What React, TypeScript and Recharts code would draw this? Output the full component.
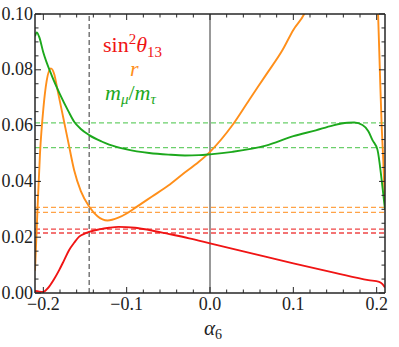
import { Line, LineChart, ReferenceLine, XAxis, YAxis } from "recharts";

const RED = "#f01414";
const ORANGE = "#ff8f1a";
const GREEN = "#1ca81c";
const FRAME = "#262626";
const FONT = "Liberation Serif";

// tick marks (minor + major) and labels
const X_TICKS = [
  -0.2, -0.18, -0.16, -0.14, -0.12, -0.1, -0.08, -0.06, -0.04, -0.02, 0, 0.02, 0.04, 0.06,
  0.08, 0.1, 0.12, 0.14, 0.16, 0.18, 0.2,
];
const X_MAJOR = [-0.2, -0.1, 0, 0.1, 0.2];
const X_LABELS = ["\u22120.2", "\u22120.1", "0.0", "0.1", "0.2"];
const Y_TICKS = [
  0, 0.005, 0.01, 0.015, 0.02, 0.025, 0.03, 0.035, 0.04, 0.045, 0.05, 0.055, 0.06, 0.065,
  0.07, 0.075, 0.08, 0.085, 0.09, 0.095, 0.1,
];
const Y_MAJOR = [0, 0.02, 0.04, 0.06, 0.08, 0.1];
const Y_LABELS = ["0.00", "0.02", "0.04", "0.06", "0.08", "0.10"];

// curves [alpha6, value]
const SIN2_THETA13: [number, number][] = [
  [-0.21, 0.0007], [-0.205, 0.0005], [-0.2, 0.0004], [-0.197, 0.001], [-0.193, 0.0023],
  [-0.187, 0.005], [-0.181, 0.0082], [-0.175, 0.0118], [-0.169, 0.0154], [-0.163, 0.018],
  [-0.157, 0.0202], [-0.151, 0.0212], [-0.145, 0.0219], [-0.133, 0.0228], [-0.121, 0.0234],
  [-0.11, 0.0237], [-0.09, 0.0234], [-0.073, 0.0226], [-0.05, 0.0212], [-0.025, 0.0196],
  [0, 0.0178], [0.05, 0.0142], [0.1, 0.0106], [0.15, 0.0072], [0.19, 0.0046], [0.203, 0.004],
  [0.207, 0.0032], [0.21, 0.002],
];
const R_RATIO: [number, number][] = [
  [-0.21, 0.008], [-0.207, 0.03], [-0.204, 0.05], [-0.2, 0.066], [-0.196, 0.076],
  [-0.191, 0.0805], [-0.187, 0.0785], [-0.183, 0.0728], [-0.176, 0.0627], [-0.17, 0.054],
  [-0.163, 0.044], [-0.155, 0.0365], [-0.145, 0.031], [-0.135, 0.0275], [-0.123, 0.026],
  [-0.11, 0.027], [-0.1, 0.0285], [-0.089, 0.0307], [-0.07, 0.0345], [-0.05, 0.0385],
  [-0.034, 0.0423], [-0.013, 0.0471], [0, 0.0506], [0.027, 0.0602], [0.047, 0.0692],
  [0.067, 0.0781], [0.087, 0.0871], [0.1, 0.0943], [0.113, 0.1], [0.12, 0.105],
  [0.2, 0.11], [0.2017, 0.1], [0.204, 0.078], [0.206, 0.06], [0.208, 0.047], [0.21, 0.031],
];
const M_MU_M_TAU: [number, number][] = [
  [-0.21, 0.092], [-0.208, 0.0934], [-0.205, 0.0918], [-0.2, 0.0862], [-0.19, 0.078],
  [-0.18, 0.0712], [-0.17, 0.0652], [-0.163, 0.0614], [-0.155, 0.0588], [-0.145, 0.0566],
  [-0.13, 0.0543], [-0.121, 0.0532], [-0.1, 0.0515], [-0.073, 0.0502], [-0.05, 0.0496],
  [-0.03, 0.0493], [-0.013, 0.0494], [0, 0.0497], [0.027, 0.0506], [0.067, 0.0528],
  [0.1, 0.0562], [0.127, 0.0583], [0.147, 0.06], [0.165, 0.061], [0.173, 0.0611],
  [0.183, 0.0602], [0.19, 0.058], [0.195, 0.0548], [0.201, 0.0513], [0.206, 0.0405],
  [0.21, 0.03],
];

// experimental ranges (dashed) and marker lines
const GREEN_BAND = [0.061, 0.0521];
const ORANGE_BAND = [0.0307, 0.0289];
const RED_BAND = [0.0229, 0.0215];
const ALPHA_CUT = -0.145;

const toRows = (pts: [number, number][]) => pts.map(([x, y]) => ({ x, y }));

const near = (a: number, b: number) => Math.abs(a - b) < 1e-9;

function tick(side: "bottom" | "top" | "left" | "right") {
  return (props: any) => {
    const { x, y, payload } = props;
    const v = payload.value as number;
    const horiz = side === "bottom" || side === "top";
    const majors = horiz ? X_MAJOR : Y_MAJOR;
    const labels = horiz ? X_LABELS : Y_LABELS;
    const idx = majors.findIndex((m) => near(m, v));
    const len = idx >= 0 ? 6 : 3.5;
    let line;
    if (side === "bottom") line = <line x1={x} y1={y} x2={x} y2={y - len} />;
    else if (side === "top") line = <line x1={x} y1={y} x2={x} y2={y + len} />;
    else if (side === "left") line = <line x1={x} y1={y} x2={x + len} y2={y} />;
    else line = <line x1={x} y1={y} x2={x - len} y2={y} />;
    return (
      <g stroke={FRAME} strokeWidth={1}>
        {line}
        {idx >= 0 && side === "bottom" && (
          <text x={x} y={y + 17} textAnchor="middle" stroke="none" fill="#222" fontSize={18} style={{ fontFamily: FONT }}>
            {labels[idx]}
          </text>
        )}
        {idx >= 0 && side === "left" && (
          <text x={x - 2} y={y + 5.5} textAnchor="end" stroke="none" fill="#222" fontSize={18} style={{ fontFamily: FONT }}>
            {labels[idx]}
          </text>
        )}
      </g>
    );
  };
}

export default function App() {
  const axisLine = { stroke: FRAME, strokeWidth: 1.5 };
  const f = { fontFamily: FONT };
  return (
    <div style={{ position: "absolute", left: 0, top: 0, width: 399, height: 347 }}>
      <LineChart width={399} height={347} margin={{ top: 13, right: 13, left: 0, bottom: 0 }}>
        <XAxis
          dataKey="x"
          type="number"
          domain={[-0.21, 0.21]}
          allowDataOverflow
          ticks={X_TICKS}
          interval={0}
          height={54}
          tickSize={0}
          tickMargin={0}
          axisLine={axisLine}
          tick={tick("bottom")}
        />
        <XAxis
          xAxisId="top"
          orientation="top"
          dataKey="x"
          type="number"
          domain={[-0.21, 0.21]}
          allowDataOverflow
          ticks={X_TICKS}
          interval={0}
          height={1}
          tickSize={0}
          tickMargin={0}
          axisLine={axisLine}
          tick={tick("top")}
        />
        <YAxis
          type="number"
          domain={[0, 0.1]}
          allowDataOverflow
          ticks={Y_TICKS}
          interval={0}
          width={35}
          tickSize={0}
          tickMargin={0}
          axisLine={axisLine}
          tick={tick("left")}
        />
        <YAxis
          yAxisId="right"
          orientation="right"
          type="number"
          domain={[0, 0.1]}
          allowDataOverflow
          ticks={Y_TICKS}
          interval={0}
          width={1}
          tickSize={0}
          tickMargin={0}
          axisLine={axisLine}
          tick={tick("right")}
        />
        {GREEN_BAND.map((v) => (
          <ReferenceLine key={"g" + v} y={v} stroke="#6bcf6b" strokeWidth={1.3} strokeDasharray="5 3" />
        ))}
        {ORANGE_BAND.map((v) => (
          <ReferenceLine key={"o" + v} y={v} stroke="#ffa347" strokeWidth={1.3} strokeDasharray="5 3" />
        ))}
        {RED_BAND.map((v) => (
          <ReferenceLine key={"r" + v} y={v} stroke="#f04545" strokeWidth={1.3} strokeDasharray="5 3" />
        ))}
        <ReferenceLine x={ALPHA_CUT} stroke="#555" strokeWidth={1.2} strokeDasharray="5 3" />
        <ReferenceLine x={0} stroke="#555" strokeWidth={1.2} />
        <Line data={toRows(R_RATIO)} dataKey="y" type="monotone" stroke={ORANGE} strokeWidth={1.9} dot={false} isAnimationActive={false} />
        <Line data={toRows(M_MU_M_TAU)} dataKey="y" type="monotone" stroke={GREEN} strokeWidth={1.9} dot={false} isAnimationActive={false} />
        <Line data={toRows(SIN2_THETA13)} dataKey="y" type="monotone" stroke={RED} strokeWidth={1.9} dot={false} isAnimationActive={false} />
      </LineChart>
      <svg width={399} height={347} style={{ position: "absolute", left: 0, top: 0, pointerEvents: "none" }}>
        <text x={103} y={52} fontSize={22} fill={RED} style={f}>
          sin<tspan dy={-8} fontSize={15}>2</tspan>
          <tspan dy={8} fontStyle="italic">θ</tspan>
          <tspan dy={5} fontSize={15}>13</tspan>
        </text>
        <text x={130} y={76} fontSize={22} fill={ORANGE} fontStyle="italic" style={f}>
          r
        </text>
        <text x={105} y={100} fontSize={22} fill={GREEN} style={f}>
          <tspan fontStyle="italic">m</tspan>
          <tspan dy={4} fontSize={15} fontStyle="italic">μ</tspan>
          <tspan dy={-4}>/</tspan>
          <tspan fontStyle="italic">m</tspan>
          <tspan dy={4} fontSize={15} fontStyle="italic">τ</tspan>
        </text>
        <text x={204} y={335} fontSize={21} fill="#222" style={f}>
          <tspan fontStyle="italic">α</tspan>
          <tspan dy={4} fontSize={14}>6</tspan>
        </text>
      </svg>
    </div>
  );
}
